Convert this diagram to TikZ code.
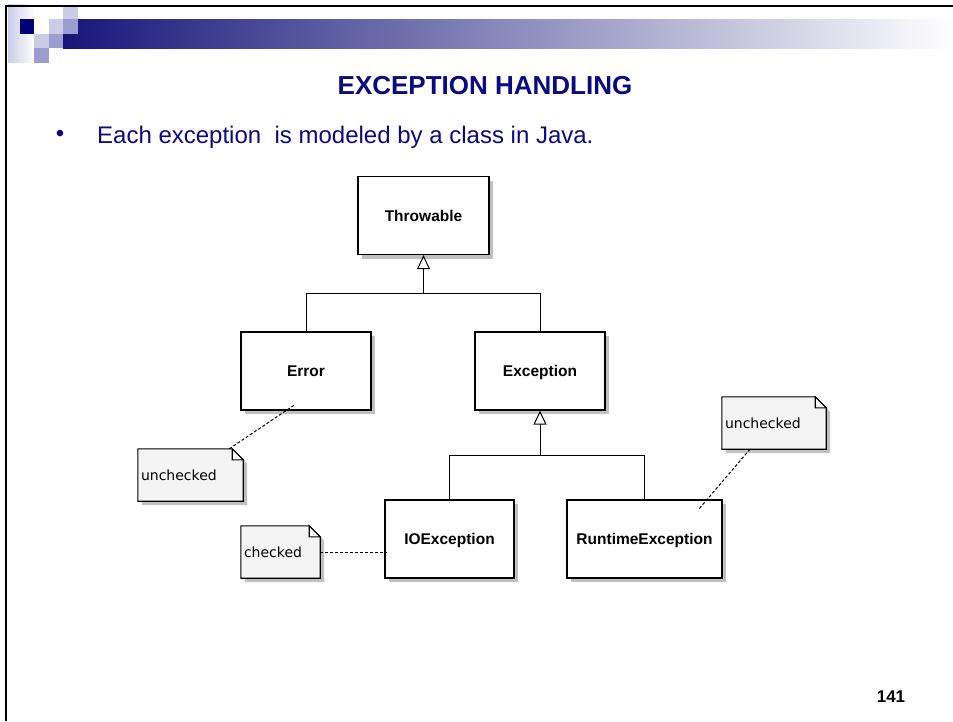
\documentclass[tikz,border=0pt]{standalone}
\usepackage{fontspec}
\setmainfont{Liberation Sans}
\newfontfamily\notefont{DejaVu Sans}
\usetikzlibrary{arrows.meta,shadows,backgrounds,calc}
\definecolor{slidenavy}{RGB}{10,10,130}
\definecolor{deconavy}{RGB}{0,0,120}
\definecolor{barnavy}{RGB}{22,22,122}
\definecolor{barmid}{RGB}{170,170,196}
\definecolor{decolight}{RGB}{204,204,230}
\definecolor{decomid}{RGB}{155,158,206}
\definecolor{notegray}{RGB}{244,244,244}
\definecolor{shadowgray}{RGB}{192,192,192}
\tikzset{
  classbox/.style={draw, line width=1.2pt, fill=white, minimum height=78pt, inner sep=0pt,
    text height=13pt, text depth=2pt, font=\fontsize{15.5}{18}\selectfont\bfseries,
    drop shadow={shadow xshift=4pt, shadow yshift=-4pt, fill=shadowgray, opacity=1}},
  notebox/.style={text width=#1, inner xsep=3pt, inner ysep=0pt, minimum height=52pt, align=left,
    font=\notefont\fontsize{14}{16}\selectfont},
  notebody/.style={draw, line width=1.1pt},
  inherit/.style={line width=1pt, -{Triangle[open, length=14pt, width=13pt, line width=1pt]}},
  attach/.style={line width=1pt, dash pattern=on 3pt off 2pt},
}
\begin{document}
\begin{tikzpicture}[x=1pt, y=-1pt]
    \useasboundingbox (0,0) rectangle (953,721);
    \shade[left color=decolight, right color=white] (8,4.5) rectangle (34,62.5);
    \shade[left color=barnavy, middle color=barmid, right color=white] (63,19) rectangle (953,48);
    \fill[decolight] (63,4.5) rectangle +(14.5,14.5);
    \fill[deconavy] (19.5,19) rectangle +(14.5,14.5);
    \fill[decolight] (48.5,19) rectangle +(14.5,14.5);
    \fill[decomid] (63,19) rectangle +(14.5,14.5);
    \fill[decolight] (34,33.5) rectangle +(14.5,14.5);
    \fill[decomid] (48.5,33.5) rectangle +(14.5,14.5);
    \fill[decomid] (34,48) rectangle +(14.5,14.5);
    \draw[line width=2.5pt] (6,721) -- (6,6) -- (953,6);

    \node[font=\fontsize{26}{30}\selectfont\bfseries, text=slidenavy, anchor=base, inner sep=0pt] (title) at (485,94.5) {EXCEPTION HANDLING};
    \node[font=\fontsize{24}{28}\selectfont, text=slidenavy, inner sep=0pt] (dot) at (60,135.5) {•};
    \node[font=\fontsize{24}{28}\selectfont, text=slidenavy, anchor=base west, inner sep=0pt] (line) at (97,143) {Each exception~ is modeled by a class in Java.};
    \node[font=\fontsize{17}{20}\selectfont\bfseries, anchor=base, inner sep=0pt] (page) at (891,702) {141};

    \node[classbox, minimum width=131pt] (thr) at (423.5,215.5) {Throwable};
    \node[classbox, minimum width=130pt] (err) at (306,371) {Error};
    \node[classbox, minimum width=130pt] (exc) at (540,371) {Exception};
    \node[classbox, minimum width=129pt] (io) at (449.5,539) {IOException};
    \node[classbox, minimum width=155pt] (rt) at (644.5,539) {RuntimeException};

    \coordinate (j1) at ($(thr.south)+(0,38)$);
    \coordinate (j2) at ($(exc.south)+(0,45)$);
    \draw[inherit] (j1) -- (thr);
    \draw[line width=1pt] (err) |- (j1) -| (exc);
    \draw[inherit] (j2) -- (exc);
    \draw[line width=1pt] (io) |- (j2) -| (rt);

    \node[notebox=99pt] (nerr) at (190.5,475) {unchecked};
    \node[notebox=73pt] (nio) at (280.5,552) {checked};
    \node[notebox=98pt] (nrt) at (774,423) {unchecked};
    \begin{scope}[on background layer]
        \fill[white] (0,0) rectangle (953,721);
        \foreach \n in {nerr,nio,nrt} {
            \fill[shadowgray] ([shift={(4pt,-4pt)}]\n.south west) -- ([shift={(4pt,-4pt)}]\n.north west)
                -- ([shift={(-7pt,-4pt)}]\n.north east) -- ([shift={(4pt,-15pt)}]\n.north east)
                -- ([shift={(4pt,-4pt)}]\n.south east) -- cycle;
            \filldraw[notebody, fill=notegray] (\n.south west) -- (\n.north west) -- ([xshift=-11pt]\n.north east)
                -- ([yshift=-11pt]\n.north east) -- (\n.south east) -- cycle;
            \filldraw[notebody, fill=white] ([xshift=-11pt]\n.north east) |- ([yshift=-11pt]\n.north east) -- cycle;
        }
    \end{scope}

    \coordinate (errend) at ($(err.south)+(-11,-6)$);
    \coordinate (ioend) at ($(io.west)+(3,13)$);
    \coordinate (rtend) at ($(rt.north east)+(-24,10)$);
    \draw[attach] ([xshift=-14pt]nerr.north east) -- (errend);
    \draw[attach] (nio) -- (ioend);
    \draw[attach] ([xshift=-24pt]nrt.south) -- (rtend);
\end{tikzpicture}
\end{document}
